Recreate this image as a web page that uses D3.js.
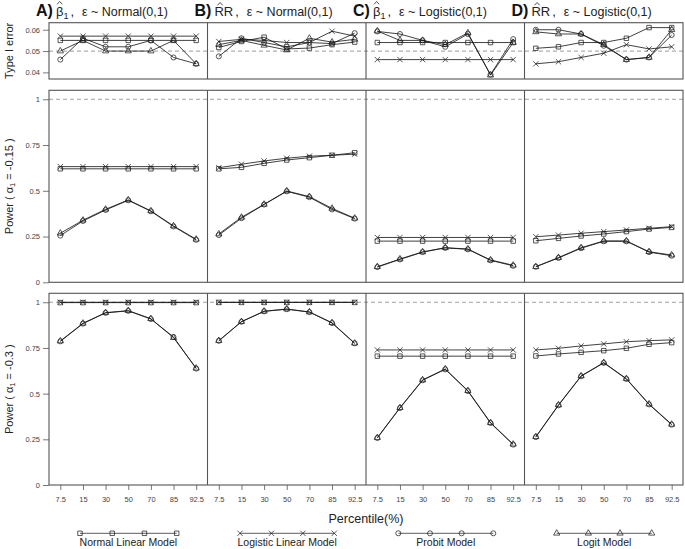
<!DOCTYPE html>
<html><head><meta charset="utf-8">
<script src="https://cdn.jsdelivr.net/npm/d3@7"></script>
<style>body{margin:0;background:#fff} svg{display:block}</style>
</head><body>
<script>
// ---------- data ----------
const percentiles = ["7.5","15","30","50","70","85","92.5"];
const models = ["Normal Linear Model","Logistic Linear Model","Probit Model","Logit Model"];
const panelLetters = ["A)","B)","C)","D)"];
const panelEstimator = ["beta","RR","beta","RR"];
const panelError = ["ε ~ Normal(0,1)","ε ~ Normal(0,1)","ε ~ Logistic(0,1)","ε ~ Logistic(0,1)"];
const rowTitles = ["Type I error", "-0.15", "-0.3"];
const typeITicks = [0.04, 0.05, 0.06];
const powerTicks = [0, 0.25, 0.5, 0.75, 1];
const powerTickLabels = ["0","0.25","0.5","0.75","1"];

// series order in each panel: [normal, logistic, probit, logit]
const typeI_A = [
  [0.055,0.055,0.055,0.055,0.055,0.055,0.055],
  [0.057,0.057,0.057,0.057,0.057,0.057,0.057],
  [0.046,0.056,0.052,0.052,0.055,0.047,0.044],
  [0.050,0.055,0.050,0.050,0.050,0.055,0.044]];
const typeI_B = [
  [0.0517,0.0545,0.0565,0.051,0.0514,0.053,0.0542],
  [0.0545,0.0555,0.055,0.054,0.054,0.0593,0.057],
  [0.0475,0.056,0.054,0.052,0.054,0.0535,0.0584],
  [0.053,0.055,0.0527,0.0505,0.056,0.0542,0.0555]];
const typeI_C = [
  [0.054,0.054,0.054,0.054,0.054,0.054,0.054],
  [0.046,0.046,0.046,0.046,0.046,0.046,0.046],
  [0.0592,0.058,0.055,0.052,0.058,0.039,0.0556],
  [0.0594,0.055,0.055,0.053,0.0585,0.0387,0.054]];
const typeI_D = [
  [0.0513,0.052,0.054,0.054,0.056,0.061,0.061],
  [0.044,0.045,0.047,0.049,0.053,0.051,0.052],
  [0.060,0.060,0.058,0.0525,0.046,0.047,0.0575],
  [0.059,0.058,0.058,0.053,0.046,0.047,0.060]];

const power15_A = [
  [0.62,0.62,0.62,0.62,0.62,0.62,0.62],
  [0.632,0.632,0.632,0.632,0.632,0.632,0.632],
  [0.255,0.335,0.395,0.448,0.388,0.305,0.232],
  [0.268,0.339,0.399,0.45,0.39,0.308,0.235]];
const power15_B = [
  [0.62,0.628,0.65,0.668,0.681,0.694,0.708],
  [0.626,0.645,0.663,0.678,0.689,0.694,0.70],
  [0.258,0.35,0.425,0.497,0.465,0.398,0.348],
  [0.264,0.355,0.426,0.499,0.468,0.404,0.35]];
const power15_C = [
  [0.225,0.225,0.225,0.225,0.225,0.225,0.225],
  [0.245,0.245,0.245,0.245,0.245,0.245,0.245],
  [0.083,0.125,0.165,0.188,0.18,0.12,0.09],
  [0.085,0.127,0.166,0.189,0.182,0.122,0.093]];
const power15_D = [
  [0.227,0.24,0.253,0.264,0.277,0.291,0.30],
  [0.249,0.258,0.268,0.277,0.286,0.295,0.304],
  [0.085,0.133,0.186,0.224,0.224,0.165,0.145],
  [0.085,0.135,0.189,0.226,0.226,0.167,0.149]];

const power30_A = [
  [0.998,0.998,0.998,0.998,0.998,0.998,0.998],
  [1.0,1.0,1.0,1.0,1.0,1.0,1.0],
  [0.786,0.883,0.942,0.953,0.908,0.81,0.637],
  [0.788,0.885,0.943,0.954,0.91,0.806,0.639]];
const power30_B = [
  [0.999,0.999,0.999,0.999,0.999,0.999,0.999],
  [1.0,1.0,1.0,1.0,1.0,1.0,1.0],
  [0.789,0.893,0.95,0.962,0.946,0.886,0.775],
  [0.79,0.894,0.951,0.963,0.947,0.888,0.776]];
const power30_C = [
  [0.705,0.705,0.705,0.705,0.705,0.705,0.705],
  [0.739,0.739,0.739,0.739,0.739,0.739,0.739],
  [0.257,0.421,0.573,0.633,0.514,0.339,0.221],
  [0.259,0.423,0.575,0.635,0.516,0.341,0.223]];
const power30_D = [
  [0.706,0.717,0.726,0.735,0.748,0.77,0.779],
  [0.739,0.748,0.761,0.772,0.784,0.79,0.794],
  [0.262,0.436,0.595,0.668,0.58,0.441,0.33],
  [0.264,0.438,0.597,0.67,0.582,0.443,0.332]];

// ---------- layout ----------
const W = 685, H = 549;
const FONT = "'Liberation Sans', Arial, Helvetica, sans-serif";
const plotLeft = 49, plotRight = 683;
const panelW = (plotRight - plotLeft) / 4;
const rows = [
  {top: 22.7, bottom: 79, domain: [0.0369, 0.0633], ticks: typeITicks, labels: typeITicks.map(String),
   ref: 0.05, refColor: "#b0b0b0", refDash: "4,3", refW: 1.3, data: [typeI_A, typeI_B, typeI_C, typeI_D]},
  {top: 90.3, bottom: 282.3, domain: [0, 1.049], ticks: powerTicks, labels: powerTickLabels,
   ref: 1, refColor: "#888", refDash: "4,3", refW: 0.8, data: [power15_A, power15_B, power15_C, power15_D]},
  {top: 293.3, bottom: 485, domain: [0, 1.049], ticks: powerTicks, labels: powerTickLabels,
   ref: 1, refColor: "#888", refDash: "4,3", refW: 0.8, data: [power30_A, power30_B, power30_C, power30_D]}
];
const symbols = [d3.symbolSquare, d3.symbolX, d3.symbolCircle, d3.symbolTriangle];
const symSizes = [20, 20, 20, 17];

const svg = d3.select("body").append("svg").attr("width", W).attr("height", H)
  .style("font-family", FONT);

const xScales = d3.range(4).map(p => d3.scaleLinear().domain([0.5, 7.5])
  .range([plotLeft + p * panelW, plotLeft + (p + 1) * panelW]));

rows.forEach((row, r) => {
  const y = d3.scaleLinear().domain(row.domain).range([row.bottom, row.top]);
  const g = svg.append("g");
  g.append("line").attr("x1", plotLeft).attr("x2", plotRight)
    .attr("y1", y(row.ref)).attr("y2", y(row.ref))
    .attr("stroke", row.refColor).attr("stroke-width", row.refW).attr("stroke-dasharray", row.refDash);
  row.data.forEach((panel, p) => {
    const x = xScales[p];
    const line = d3.line().x((d, i) => x(i + 1)).y(d => y(d));
    panel.forEach((vals, m) => {
      g.append("path").attr("d", line(vals)).attr("fill", "none")
        .attr("stroke", "#111").attr("stroke-width", 0.8);
      g.selectAll(null).data(vals).enter().append("path")
        .attr("transform", (d, i) => `translate(${x(i + 1)},${y(d)})`)
        .attr("d", d3.symbol().type(symbols[m]).size(symSizes[m]))
        .attr("fill", "none").attr("stroke", "#222").attr("stroke-width", 0.75);
    });
  });
  g.append("rect").attr("x", plotLeft).attr("y", row.top)
    .attr("width", plotRight - plotLeft).attr("height", row.bottom - row.top)
    .attr("fill", "none").attr("stroke", "#555").attr("stroke-width", 1.1);
  for (let p = 1; p < 4; p++) {
    g.append("line").attr("x1", xScales[p].range()[0]).attr("x2", xScales[p].range()[0])
      .attr("y1", row.top).attr("y2", row.bottom).attr("stroke", "#555").attr("stroke-width", 1.1);
  }
  const yAxis = d3.axisLeft(y).tickValues(row.ticks).tickSize(6).tickPadding(3)
    .tickFormat((d, i) => row.labels[i]);
  const ag = g.append("g").attr("transform", `translate(${plotLeft},0)`).call(yAxis);
  ag.select(".domain").remove();
  ag.selectAll(".tick line").attr("stroke", "#555").attr("stroke-width", 0.8);
  ag.selectAll(".tick text").attr("fill", "#444").style("font-size", "7.5px").style("font-family", FONT);
  const cy = (row.top + row.bottom) / 2;
  const t = g.append("text").attr("transform", `translate(12.5,${cy}) rotate(-90)`)
    .attr("text-anchor", "middle").attr("fill", "#222").style("font-size", "11px");
  if (r === 0) {
    t.text(rowTitles[0]);
  } else {
    t.append("tspan").text("Power ( ");
    t.append("tspan").text("α");
    t.append("tspan").attr("dy", 2.5).style("font-size", "7.5px").text("1");
    t.append("tspan").attr("dy", -2.5).text(" = " + rowTitles[r] + " )");
  }
});

// x axis
const lastRow = rows[2];
xScales.forEach(x => {
  const ax = d3.axisBottom(x).tickValues(d3.range(1, 8)).tickSize(5).tickPadding(7)
    .tickFormat(d => percentiles[d - 1]);
  const ag = svg.append("g").attr("transform", `translate(0,${lastRow.bottom})`).call(ax);
  ag.select(".domain").remove();
  ag.selectAll(".tick line").attr("stroke", "#555").attr("stroke-width", 0.8);
  ag.selectAll(".tick text").attr("fill", "#444").style("font-size", "7.5px").style("font-family", FONT);
});
svg.append("text").attr("x", 366).attr("y", 522.5).attr("text-anchor", "middle")
  .attr("fill", "#222").style("font-size", "12.5px").text("Percentile(%)");

// panel titles (hat accents drawn as small paths)
function hat(cx, yTop) {
  svg.append("path").attr("d", `M${cx - 2.6},${yTop + 2.8}L${cx},${yTop}L${cx + 2.6},${yTop + 2.8}`)
    .attr("fill", "none").attr("stroke", "#222").attr("stroke-width", 0.8);
}
d3.range(4).forEach(p => {
  let cx = xScales[p].range()[0] - 13;
  const base = 16;
  const letter = svg.append("text").attr("x", cx).attr("y", base)
    .style("font-size", "16px").style("font-weight", "bold").attr("fill", "#111").text(panelLetters[p]);
  cx += letter.node().getComputedTextLength() + 3;
  if (panelEstimator[p] === "beta") {
    const b = svg.append("text").attr("x", cx).attr("y", base).style("font-size", "13px").attr("fill", "#222").text("β");
    const bw = b.node().getComputedTextLength();
    hat(cx + bw / 2, 1.5);
    cx += bw;
    const s = svg.append("text").attr("x", cx).attr("y", base + 2.5).style("font-size", "9px").attr("fill", "#222").text("1");
    cx += s.node().getComputedTextLength();
  } else {
    const r1 = svg.append("text").attr("x", cx).attr("y", base).style("font-size", "13px").attr("fill", "#222").text("R");
    const rw = r1.node().getComputedTextLength();
    hat(cx + rw / 2 + 1, 2.5);
    cx += rw;
    const r2 = svg.append("text").attr("x", cx).attr("y", base).style("font-size", "13px").attr("fill", "#222").text("R");
    cx += r2.node().getComputedTextLength();
  }
  const c = svg.append("text").attr("x", cx + 2).attr("y", base).style("font-size", "13px").attr("fill", "#222").text(",");
  cx += 2 + c.node().getComputedTextLength() + 8;
  svg.append("text").attr("x", cx).attr("y", base).style("font-size", "12.5px").attr("fill", "#222").text(panelError[p]);
});

// legend
const legendX = [[80, 176.7], [240, 334.3], [398.3, 493.3], [556.7, 651.7]];
const legendY = 533.3;
models.forEach((name, m) => {
  const lx = d3.scaleLinear().domain([0, 3]).range(legendX[m]);
  const g = svg.append("g");
  g.append("line").attr("x1", lx(0)).attr("x2", lx(3)).attr("y1", legendY).attr("y2", legendY)
    .attr("stroke", "#333").attr("stroke-width", 0.8);
  g.selectAll(null).data([0, 1, 2, 3]).enter().append("path")
    .attr("transform", d => `translate(${lx(d)},${legendY})`)
    .attr("d", d3.symbol().type(symbols[m]).size(symSizes[m]))
    .attr("fill", "none").attr("stroke", "#222").attr("stroke-width", 0.75);
  g.append("text").attr("x", (lx(0) + lx(3)) / 2).attr("y", 546).attr("text-anchor", "middle")
    .attr("fill", "#222").style("font-size", "10.5px").text(name);
});
</script>
</body></html>
